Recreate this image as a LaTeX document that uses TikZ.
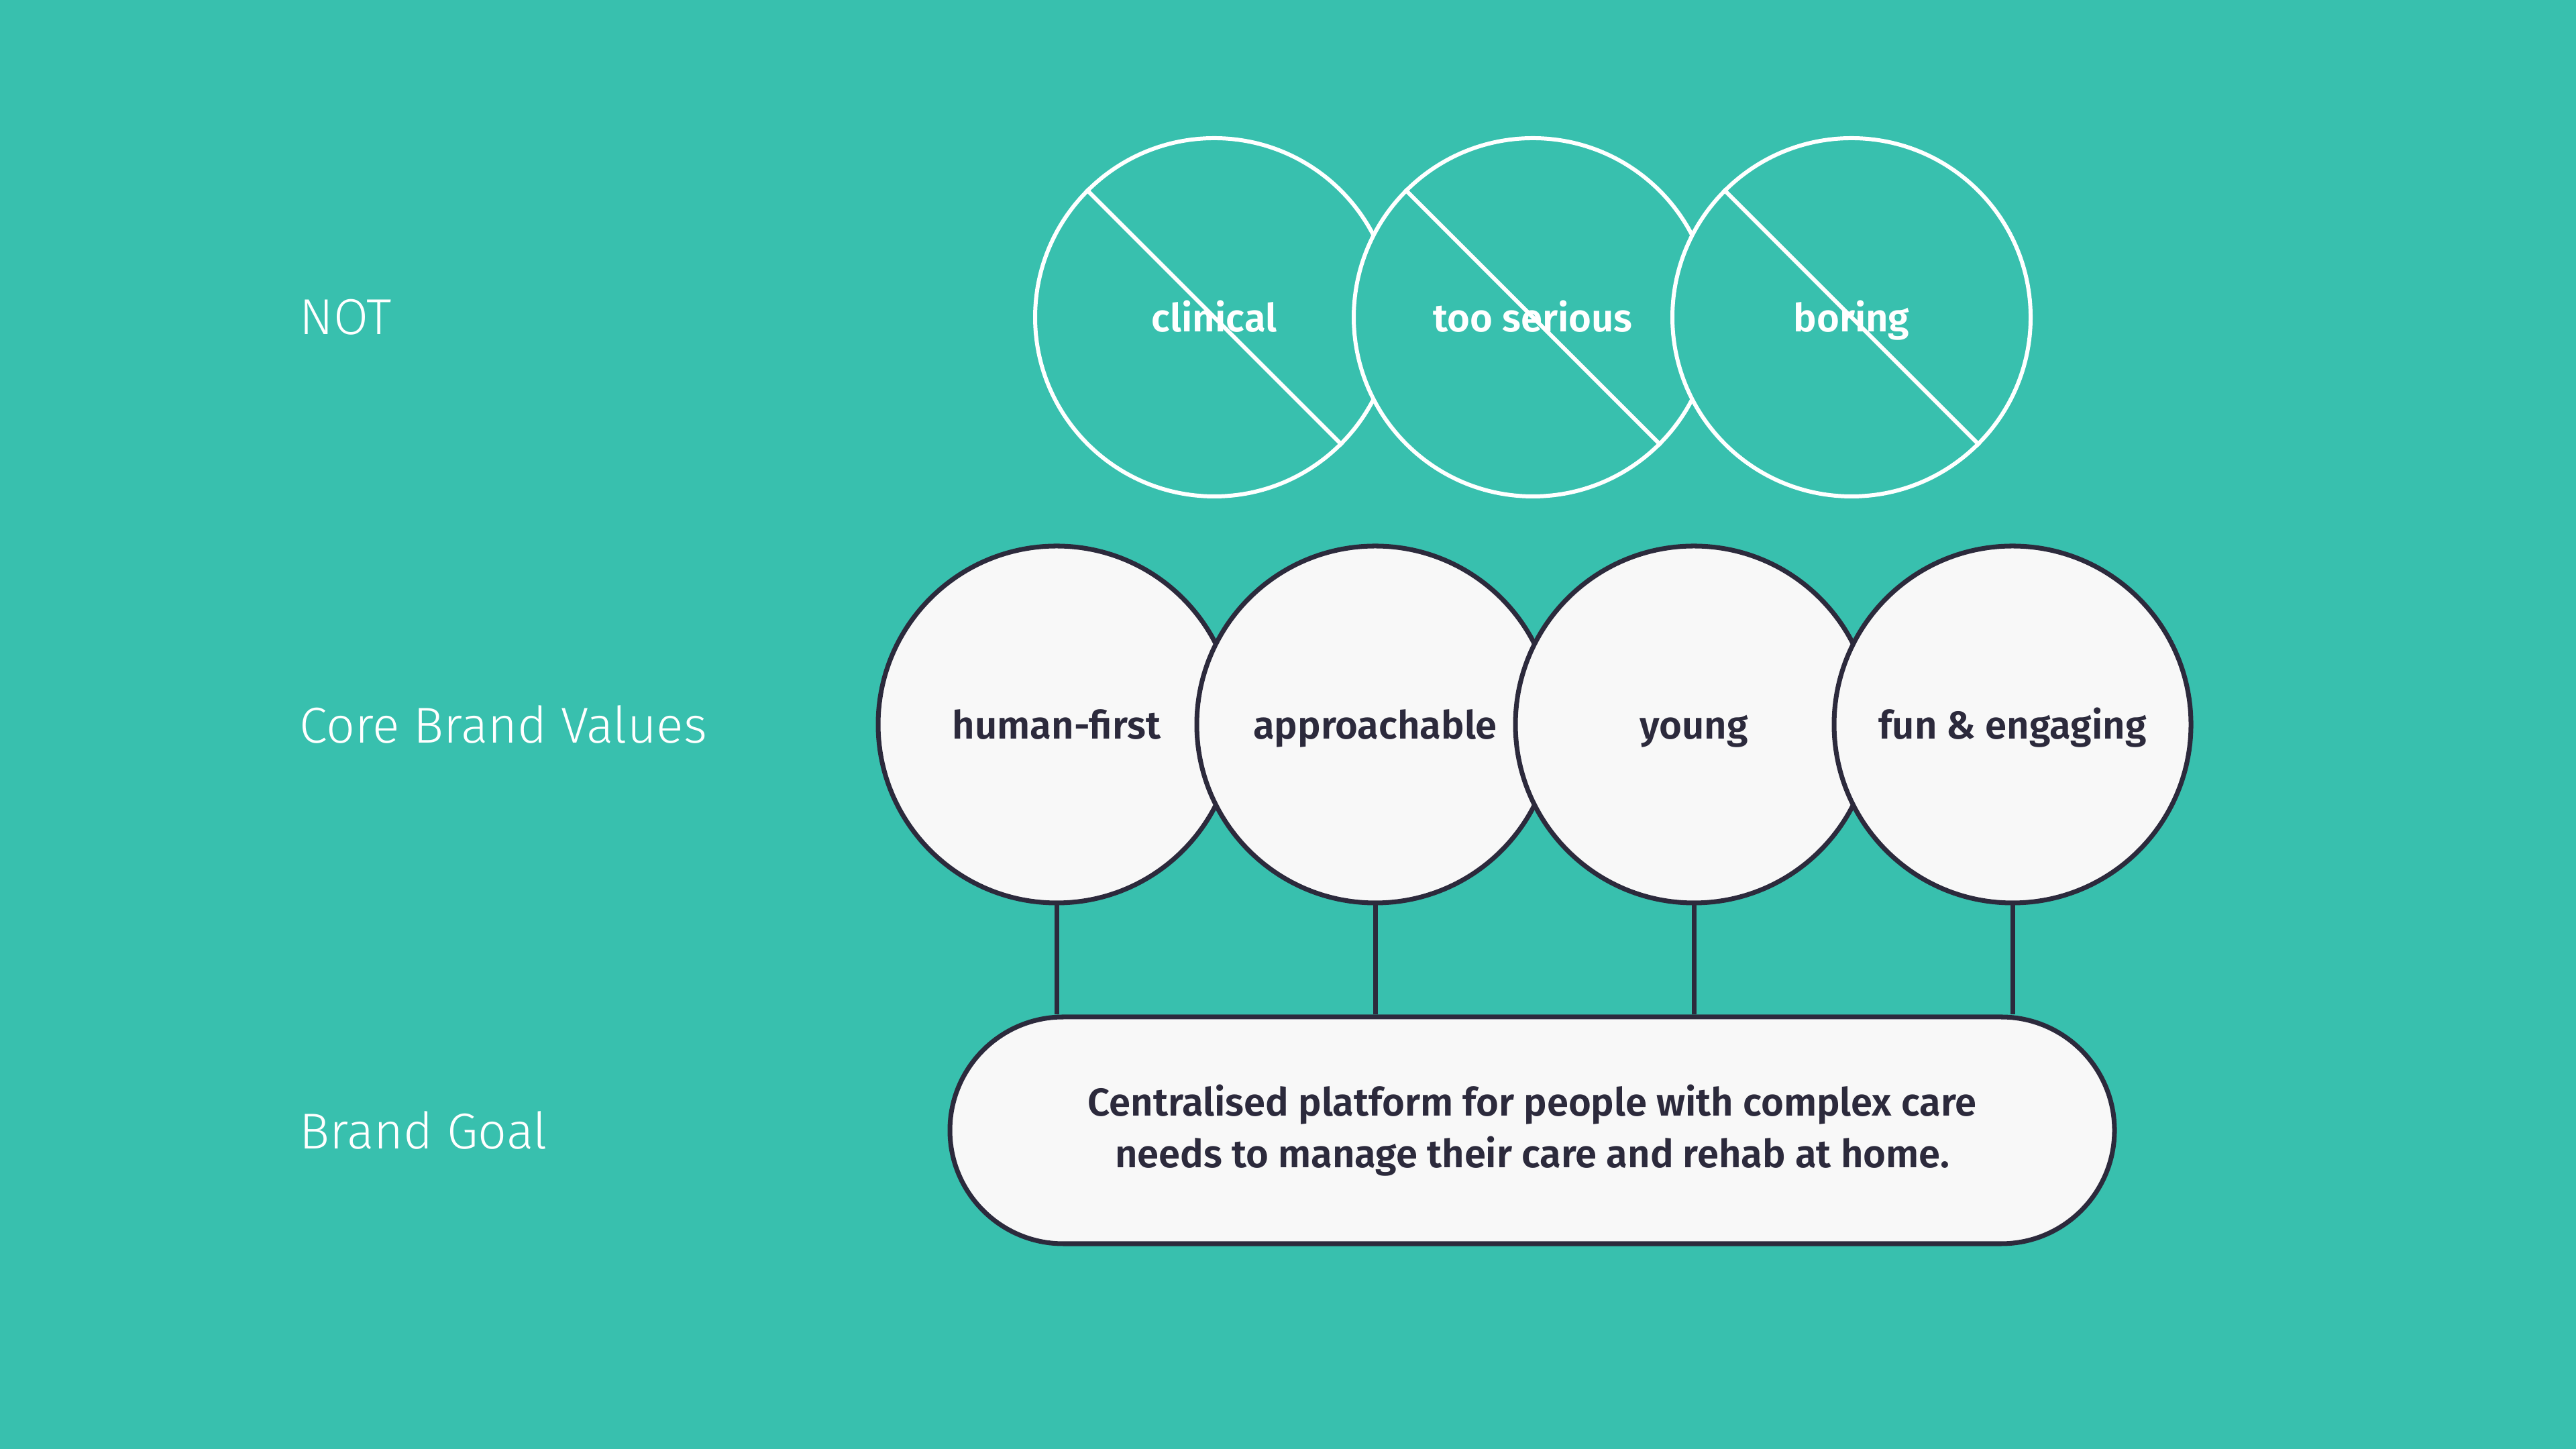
\documentclass[tikz,border=0pt]{standalone}
\usepackage{fontspec}
\setmainfont{Fira Sans}[BoldFont={Fira Sans SemiBold}]
\newfontfamily\lightfont{Fira Sans Light}
\usepackage{xcolor}
\usetikzlibrary{shapes.misc}
\definecolor{bgteal}{HTML}{38C0AE}
\definecolor{inkdark}{HTML}{2C2A3C}
\definecolor{paper}{HTML}{F8F8F8}

\begin{document}
\begin{tikzpicture}[
  rowlabel/.style={anchor=west, inner sep=0pt, text=white, font=\lightfont\fontsize{21.4}{26}\selectfont},
  notcircle/.style={circle, draw=white, line width=1.7pt, fill=bgteal, minimum size=5.34cm, inner sep=0pt,
    text=white, text height=14.5pt, text depth=2pt, font=\bfseries\fontsize{16.5}{20}\selectfont},
  valuecircle/.style={circle, draw=inkdark, line width=2pt, fill=paper, minimum size=5.32cm, inner sep=0pt,
    text=inkdark, text height=14.5pt, text depth=2pt, font=\bfseries\fontsize{16.5}{20}\selectfont},
  slash/.style={draw=white, line width=1.7pt},
  link/.style={draw=inkdark, line width=2pt}
 ]
 \fill [bgteal] (0, 0) rectangle (38.4, 21.6);
 % row labels
 \node [rowlabel] (lblnot) at (4.46, 16.87) {NOT};
 \node [rowlabel] (lblvalues) at (4.46, 10.80) {Core Brand Values};
 \node [rowlabel] (lblgoal) at (4.46, 4.75) {Brand Goal};
 % NOT circles
 \node [notcircle] (clinical) at (18.10, 16.87) {clinical};
 \draw [slash] (clinical.135) -- (clinical.-45);
 \node [notcircle] (serious) at (22.85, 16.87) {too serious};
 \draw [slash] (serious.135) -- (serious.-45);
 \node [notcircle] (boring) at (27.60, 16.87) {boring};
 \draw [slash] (boring.135) -- (boring.-45);
 % core values
 \node [valuecircle] (human) at (15.75, 10.80) {human-first};
 \node [valuecircle] (approach) at (20.50, 10.80) {approachable};
 \node [valuecircle] (young) at (25.25, 10.80) {young};
 \node [valuecircle] (fun) at (30.00, 10.80) {fun \& engaging};
 % goal
 \node [rounded rectangle, draw=inkdark, line width=2pt, fill=paper, minimum width=17.36cm, minimum height=3.38cm,
   inner sep=0pt, align=center, text=inkdark, font=\bfseries\fontsize{16.5}{22}\selectfont] (goal) at (22.84, 4.75)
   {Centralised platform for people with complex care\\needs to manage their care and rehab at home.};
 \draw [link] (human.south) -- (human.south |- goal.north);
 \draw [link] (approach.south) -- (approach.south |- goal.north);
 \draw [link] (young.south) -- (young.south |- goal.north);
 \draw [link] (fun.south) -- (fun.south |- goal.north);
\end{tikzpicture}
\end{document}
